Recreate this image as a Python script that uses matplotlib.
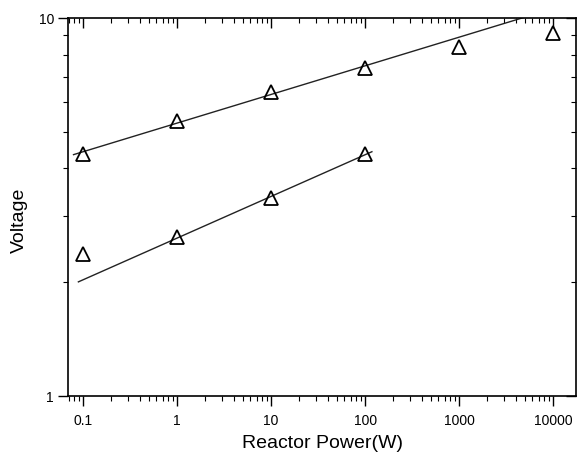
import numpy as np
import matplotlib
matplotlib.use("Agg")
import matplotlib.pyplot as plt
from matplotlib.ticker import LogLocator, FixedLocator, NullFormatter

plt.rcParams['font.family'] = ['Liberation Sans', 'DejaVu Sans']

# reactor power (W) and measured voltage for the two series
power_upper = [0.1, 1, 10, 100, 1000, 10000]
volt_upper = [4.37, 5.34, 6.37, 7.37, 8.38, 9.13]
power_lower = [0.1, 1, 10, 100]
volt_lower = [2.37, 2.63, 3.34, 4.37]

# which points the straight fits use, and where the fit lines are drawn
fit_upper_idx = [0, 1, 2, 3]
fit_lower_idx = [1, 2, 3]
fit_upper_range = [0.079, 20000]
fit_lower_range = [0.089, 118]

x_ticks = [0.1, 1, 10, 100, 1000, 10000]
x_labels = ['0.1', '1', '10', '100', '1000', '10000']


def loglog_fit(xs, ys, idx, xr):
    lx = np.log10(np.array(xs)[idx])
    ly = np.log10(np.array(ys)[idx])
    k, b = np.polyfit(lx, ly, 1)
    xx = np.logspace(np.log10(xr[0]), np.log10(xr[1]), 50)
    return xx, 10 ** (k * np.log10(xx) + b)


fig = plt.figure(figsize=(5.78, 4.56), dpi=100)
ax = fig.add_axes([68 / 578, 59 / 456, 508 / 578, 378 / 456])

ax.set_xscale('log')
ax.set_yscale('log')
ax.set_xlim(0.069, 17500)
ax.set_ylim(1, 10)

xf, yf = loglog_fit(power_upper, volt_upper, fit_upper_idx, fit_upper_range)
ax.plot(xf, yf, color='#222222', lw=1.0)
xf, yf = loglog_fit(power_lower, volt_lower, fit_lower_idx, fit_lower_range)
ax.plot(xf, yf, color='#222222', lw=1.0)

ax.plot(power_upper, volt_upper, '^', ms=10.5, mfc='none', mec='black', mew=1.3)
ax.plot(power_lower, volt_lower, '^', ms=10.5, mfc='none', mec='black', mew=1.3)

ax.xaxis.set_major_locator(FixedLocator(x_ticks))
ax.set_xticklabels(x_labels)
ax.xaxis.set_minor_locator(LogLocator(base=10, subs=np.arange(2, 10), numticks=20))
ax.xaxis.set_minor_formatter(NullFormatter())
ax.yaxis.set_major_locator(FixedLocator([1, 10]))
ax.set_yticklabels(['1', '10'])
ax.yaxis.set_minor_locator(LogLocator(base=10, subs=np.arange(2, 10), numticks=20))
ax.yaxis.set_minor_formatter(NullFormatter())

ax.tick_params(axis='x', which='both', direction='out', top=True, labelsize=10, pad=5)
ax.tick_params(axis='y', which='both', direction='out', right=True, labelsize=10, pad=3)
ax.tick_params(which='major', length=7, width=1)
ax.tick_params(which='minor', length=3.5, width=0.8)
# ticks on top and right point inward
for t in ax.xaxis.get_major_ticks() + ax.xaxis.get_minor_ticks():
    t.tick2line.set_marker(matplotlib.lines.TICKDOWN)
for t in ax.yaxis.get_major_ticks() + ax.yaxis.get_minor_ticks():
    t.tick2line.set_marker(matplotlib.lines.TICKLEFT)

for s in ax.spines.values():
    s.set_linewidth(1.2)

ax.set_xlabel('Reactor Power(W)', fontsize=14, labelpad=5)
ax.set_ylabel('Voltage', fontsize=14)
ax.yaxis.set_label_coords(-0.078, 0.468)

fig.savefig('out.png', dpi=100)
